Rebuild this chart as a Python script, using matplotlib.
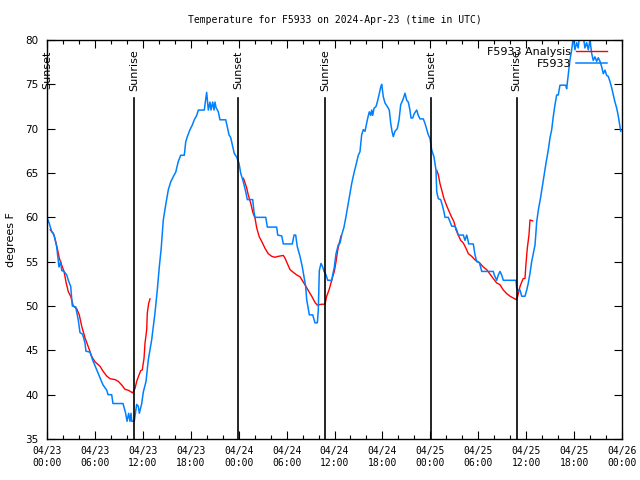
import matplotlib
matplotlib.use("Agg")
import numpy as np
from matplotlib import pyplot as plt
from matplotlib.ticker import MultipleLocator

# hours since 2024-04-23 00:00 UTC
station_hours = [
    0.0, 0.25, 0.59, 0.88, 1.21, 1.5, 1.72, 1.84, 2.13, 2.47, 2.67, 2.97, 3.17, 3.59,
    3.92, 4.13, 4.47, 4.76, 4.88, 5.38, 5.72, 6.22, 6.64, 7.01, 7.48, 7.64, 8.10, 8.26,
    9.52, 9.85, 10.02, 10.23, 10.39, 10.52, 10.61, 10.93, 11.02, 11.23, 11.43, 11.56,
    11.86, 12.06, 12.40, 12.68, 13.11, 13.52, 13.81, 14.06, 14.30, 14.56, 14.90, 15.19,
    15.49, 15.82, 16.12, 16.44, 16.74, 17.19, 17.37, 17.57, 17.91, 18.19, 18.44, 18.75,
    18.95, 19.70, 19.78, 19.99, 20.20, 20.41, 20.54, 20.75, 20.91, 21.04, 21.16, 21.45,
    21.66, 22.38, 22.58, 22.79, 23.00, 23.20, 23.45, 23.75, 24.04, 24.25, 24.58, 24.88,
    25.08, 25.76, 25.92, 26.05, 27.39, 27.59, 28.76, 28.89, 29.39, 29.59, 30.72, 30.93,
    31.14, 31.34, 31.68, 31.97, 32.18, 32.39, 32.52, 32.85, 33.27, 33.56, 33.85, 33.97,
    34.10, 34.31, 34.52, 34.69, 34.94, 35.15, 35.65, 35.77, 35.98, 36.19, 36.48, 36.69,
    36.90, 37.19, 37.44, 37.65, 37.85, 38.15, 38.44, 38.69, 38.98, 39.19, 39.40, 39.61,
    39.82, 40.16, 40.36, 40.53, 40.66, 40.78, 40.95, 41.20, 41.36, 41.57, 41.79, 41.91,
    42.11, 42.32, 42.61, 42.86, 43.04, 43.20, 43.36, 43.57, 43.86, 44.08, 44.29, 44.54,
    44.83, 45.04, 45.24, 45.45, 45.58, 45.79, 45.99, 46.29, 46.49, 46.71, 47.12, 47.33,
    47.55, 47.75, 47.96, 48.17, 48.46, 48.71, 48.80, 49.0, 49.30, 49.55, 49.71, 49.84,
    50.25, 50.46, 50.68, 51.09, 51.30, 51.50, 52.13, 52.34, 52.55, 52.67, 52.80, 53.38,
    53.59, 53.80, 54.13, 54.30, 54.43, 55.88, 56.01, 56.31, 56.51, 56.72, 56.93, 57.14,
    58.73, 58.81, 59.02, 59.23, 59.44, 59.85, 60.07, 60.27, 60.48, 60.69, 60.89, 61.11,
    61.32, 61.52, 61.82, 62.15, 62.48, 62.77, 62.99, 63.20, 63.40, 63.61, 63.82, 64.02,
    64.23, 64.65, 64.95, 65.07, 65.28, 65.49, 65.70, 65.90, 66.11, 66.32, 66.52, 66.73,
    67.15, 67.36, 67.57, 67.78, 67.99, 68.20, 68.40, 68.61, 68.83, 69.03, 69.24, 69.45,
    69.66, 69.87, 70.08, 70.28, 70.50, 70.71, 70.91, 71.12, 71.34, 71.54, 71.75, 71.84,
]
station_temp = [
    60.0, 59.4, 58.4, 58.0, 56.7, 54.4, 55.0, 54.0, 53.9, 53.5, 52.9, 52.2, 50.0, 49.9,
    48.4, 47.0, 46.8, 45.8, 44.9, 44.8, 43.9, 42.8, 41.9, 41.1, 40.5, 40.0, 40.0, 39.0,
    39.0, 37.9, 37.0, 37.9, 37.0, 37.9, 37.0, 37.0, 37.6, 38.9, 38.7, 37.9,
    39.0, 40.3, 41.5, 43.9, 46.2, 49.2, 51.8, 54.4, 56.5, 59.7, 61.6, 63.1,
    64.0, 64.6, 65.1, 66.3, 67.0, 67.0, 68.5, 69.1, 69.9, 70.4, 71.0, 71.5,
    72.1, 72.1, 72.7, 74.1, 72.1, 73.0, 72.1, 73.0, 72.1, 73.0, 72.4, 71.9,
    71.0, 71.0, 70.2, 69.3, 69.0, 68.2, 67.2, 66.8, 66.1, 65.0, 64.0, 62.9,
    62.0, 62.0, 60.6, 60.0, 60.0, 58.9, 58.9, 58.0, 57.9, 57.0, 57.0, 58.0,
    58.0, 56.7, 55.6, 54.4, 53.3, 52.2, 50.7, 49.0, 49.0, 48.1, 48.1, 49.5,
    54.0, 54.8, 54.4, 53.9, 53.5, 52.9, 52.9, 53.5, 54.4, 55.9, 56.9, 57.1,
    58.0, 58.9, 60.1, 61.2, 62.3, 63.8, 65.0, 65.9, 67.0, 67.4, 69.3, 69.9,
    69.7, 71.2, 71.9, 71.5, 72.1, 71.5, 72.3, 72.5, 73.0, 73.8, 74.7, 75.0,
    73.6, 72.9, 72.5, 72.1, 70.6, 69.7, 69.1, 69.7, 70.0, 71.0, 72.7, 73.2,
    74.0, 73.2, 73.0, 72.1, 71.2, 71.2, 71.7, 72.1, 71.5, 71.1, 71.1, 70.6,
    69.9, 69.3, 68.9, 67.6, 66.8, 65.3, 62.9, 62.1, 62.0, 61.2, 60.6, 60.0,
    60.0, 59.5, 59.0, 59.0, 58.6, 58.0, 58.0, 57.4, 58.0, 57.6, 57.0, 57.0,
    55.8, 55.0, 54.9, 54.4, 53.9, 53.9, 53.5, 52.9, 53.5, 53.9, 53.5, 52.9,
    52.9, 52.0, 51.8, 51.8, 51.1, 51.1, 51.8, 52.6, 53.7, 55.0, 55.9, 56.9,
    59.5, 60.8, 62.3, 64.2, 66.1, 67.6, 69.0, 69.9, 71.4, 72.7, 73.8, 73.8,
    74.9, 74.9, 74.9, 74.5, 76.2, 77.8, 78.9, 80.3, 78.9, 79.7, 79.1, 81.0,
    80.4, 79.1, 79.7, 78.9, 80.0, 78.5, 77.7, 78.1, 77.6, 78.0, 77.6, 77.0,
    76.2, 76.6, 76.0, 75.9, 75.3, 74.6, 73.8, 73.0, 72.3, 71.4, 70.2, 69.7,
]

# analysis segments (one per night)
analysis_hours_1 = [
    0.40, 0.59, 0.79, 1.0, 1.29, 1.54, 1.84, 2.13, 2.38, 2.67, 2.97, 3.29, 3.72, 4.04,
    4.35, 4.76, 5.17, 5.60, 6.01, 6.64, 7.05, 7.48, 7.89, 8.52, 8.93, 9.35, 9.77, 10.18,
    10.73, 11.02, 11.23, 11.43, 11.73, 11.93, 12.15, 12.27, 12.48, 12.56, 12.73, 12.90,
]
analysis_temp_1 = [
    58.6, 58.4, 58.2, 57.6, 56.5, 55.4, 54.6, 53.9, 52.7, 51.6, 51.1, 50.0, 49.7, 49.0,
    47.7, 46.4, 45.4, 44.3, 43.7, 43.2, 42.6, 42.1, 41.8, 41.7, 41.5, 41.1, 40.6, 40.5,
    40.2, 40.7, 41.5, 42.0, 42.7, 42.8, 44.1, 45.8, 47.3, 49.2, 50.3, 50.8,
]
analysis_hours_2 = [
    24.6, 25.01, 25.21, 25.51, 25.76, 26.05, 26.26, 26.58, 26.88, 27.30, 27.71, 28.14,
    28.55, 28.96, 29.59, 29.80, 30.09, 30.43, 30.84, 31.27, 31.68, 32.09, 32.43, 32.81,
    33.15, 33.56, 33.85, 34.40, 34.81, 35.02, 35.31, 35.56, 35.77, 35.98, 36.19, 36.40,
    36.60, 36.82,
]
analysis_temp_2 = [
    64.4, 63.3, 62.5, 61.6, 60.6, 59.9, 58.8, 57.8, 57.3, 56.5, 55.9, 55.6,
    55.5, 55.6, 55.7, 55.4, 54.8, 54.1, 53.8, 53.5, 53.3, 52.7, 52.2, 51.6,
    51.1, 50.4, 50.1, 50.2, 50.2, 51.1, 51.8, 52.6, 53.3, 53.9, 55.0, 56.3,
    57.1, 57.9,
]
analysis_hours_3 = [
    48.80, 49.0, 49.21, 49.42, 49.71, 50.05, 50.38, 50.68, 50.96, 51.21, 51.50, 51.80,
    52.13, 52.47, 52.76, 53.18, 53.59, 54.13, 54.63, 55.06, 55.47, 55.88, 56.31, 56.72,
    57.14, 57.56, 57.98, 58.39, 58.81, 59.02, 59.23, 59.44, 59.64, 59.85, 59.98, 60.14,
    60.35, 60.48, 60.81,
]
analysis_temp_3 = [
    65.3, 64.8, 63.8, 63.1, 62.1, 61.3, 60.6, 60.0, 59.5, 58.6, 58.0, 57.4,
    57.1, 56.5, 55.9, 55.6, 55.2, 54.9, 54.4, 54.1, 53.6, 53.1, 52.6, 52.4,
    51.8, 51.4, 51.1, 50.9, 50.7, 51.4, 52.2, 52.7, 53.1, 53.1, 54.8, 56.5,
    58.0, 59.7, 59.6,
]

sun_hours = [0.0, 10.9, 23.9, 34.8, 48.06, 58.8]
sun_labels = ["Sunset", "Sunrise", "Sunset", "Sunrise", "Sunset", "Sunrise"]

tick_hours = list(range(0, 73, 6))
tick_labels = ["04/23\n00:00", "04/23\n06:00", "04/23\n12:00", "04/23\n18:00",
               "04/24\n00:00", "04/24\n06:00", "04/24\n12:00", "04/24\n18:00",
               "04/25\n00:00", "04/25\n06:00", "04/25\n12:00", "04/25\n18:00",
               "04/26\n00:00"]

mono = "DejaVu Sans Mono"

fig = plt.figure(figsize=(6.4, 4.8), dpi=100)
ax = fig.add_axes([47 / 640, 1 - 439 / 480, 575 / 640, 399 / 480])

# analysis first, station on top (same order as legend)
a_h = analysis_hours_1 + [np.nan] + analysis_hours_2 + [np.nan] + analysis_hours_3
a_t = analysis_temp_1 + [np.nan] + analysis_temp_2 + [np.nan] + analysis_temp_3
ax.plot(a_h, a_t, color="#ff0000", lw=1.0, label="F5933 Analysis")
ax.plot(station_hours, station_temp, color="#0080ff", lw=1.1, label="F5933")

for h, lab in zip(sun_hours, sun_labels):
    ax.axvline(h, ymin=0, ymax=0.855, color="black", lw=1.2)
    ax.text(h, 0.925, lab, rotation=90, ha="center", va="center", fontsize=8,
            transform=ax.get_xaxis_transform())

ax.set_xlim(0, 72)
ax.set_ylim(35, 80)
ax.set_xticks(tick_hours)
ax.set_xticklabels(tick_labels, family=mono, fontsize=7)
ax.xaxis.set_minor_locator(MultipleLocator(2))
ax.yaxis.set_major_locator(MultipleLocator(5))
ax.tick_params(axis="both", which="major", direction="in", length=6, width=0.8,
               top=True, right=True)
ax.tick_params(axis="x", which="minor", direction="in", length=3, width=0.8, top=True)
ax.tick_params(axis="x", which="major", pad=5)
ax.tick_params(axis="y", labelsize=7.5, pad=6)
for s in ax.spines.values():
    s.set_linewidth(1.0)

ax.set_ylabel("degrees F", fontsize=8, labelpad=7)
ax.set_title("Temperature for F5933 on 2024-Apr-23 (time in UTC)", family=mono,
             fontsize=7, pad=12)

ax.legend(loc="upper right", bbox_to_anchor=(0.985, 1.0), frameon=False, fontsize=8,
          markerfirst=False, handlelength=2.8, labelspacing=0.2, borderpad=0.1,
          handletextpad=0.4)

fig.savefig("out.png", dpi=100)
